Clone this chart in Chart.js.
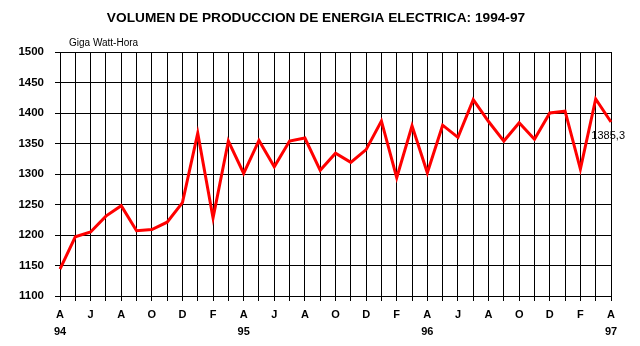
<!DOCTYPE html>
<html>
<head>
<meta charset="utf-8">
<script src="https://cdn.jsdelivr.net/npm/chart.js"></script>
<style>
  html, body { margin: 0; padding: 0; background: #fff; }
  #wrap { width: 640px; height: 346px; }
</style>
</head>
<body>
<div id="wrap"><canvas id="canvas" width="640" height="346"></canvas></div>
<script>
// monthly series, april 1994 to april 1997
const months = ['A','M','J','J','A','S','O','N','D','E','F','M',
                'A','M','J','J','A','S','O','N','D','E','F','M',
                'A','M','J','J','A','S','O','N','D','E','F','M','A'];
const years = {0: '94', 12: '95', 24: '96', 36: '97'};
const energia = [1144, 1197, 1205, 1231, 1248, 1207, 1209, 1221, 1253, 1367, 1228, 1354,
                 1301, 1355, 1312, 1354, 1359, 1306, 1334, 1319, 1340, 1387, 1294, 1379,
                 1302, 1380, 1360, 1422, 1386, 1354, 1384, 1357, 1400, 1403, 1308, 1423, 1385.3];
const yTicks = [1100, 1150, 1200, 1250, 1300, 1350, 1400, 1450, 1500];
const titulo = 'VOLUMEN DE PRODUCCION DE ENERGIA ELECTRICA: 1994-97';

const labelFont = { family: 'Liberation Sans, Arial', size: 11, weight: 'bold' };

// title, unit caption and value of the last month
const extras = {
  id: 'extras',
  afterDatasetsDraw(chart) {
    const ctx = chart.ctx;
    ctx.save();
    ctx.fillStyle = '#000';
    ctx.textBaseline = 'middle';
    ctx.textAlign = 'center';
    ctx.font = 'bold 13.7px "Liberation Sans", Arial';
    ctx.fillText(titulo, 316, 18.5);
    ctx.textAlign = 'left';
    ctx.font = '10px "Liberation Sans", Arial';
    ctx.fillText('Giga Watt-Hora', 69, 43);
    const last = energia.length - 1;
    const px = chart.scales.x.getPixelForValue(last);
    const py = chart.scales.y.getPixelForValue(energia[last]);
    ctx.font = '11px "Liberation Sans", Arial';
    ctx.textAlign = 'right';
    ctx.fillText(String(energia[last]).replace('.', ','), px + 14, py + 14);
    ctx.restore();
  }
};

const ctx = document.getElementById('canvas').getContext('2d');
const myChart = new Chart(ctx, {
  type: 'line',
  data: {
    labels: months,
    datasets: [{
      label: 'Energia',
      data: energia,
      borderColor: '#ff0000',
      borderWidth: 3,
      pointRadius: 0,
      tension: 0,
      fill: false
    }]
  },
  options: {
    responsive: false,
    animation: false,
    layout: { padding: { left: 0, right: 29, top: 52, bottom: 0 } },
    plugins: {
      legend: { display: false },
      tooltip: { enabled: false },
      title: { display: false }
    },
    scales: {
      x: {
        offset: false,
        border: { color: '#000', width: 1 },
        grid: { color: '#000', lineWidth: 1, tickLength: 5, offset: false },
        ticks: {
          autoSkip: false,
          maxRotation: 0,
          color: '#000',
          font: { ...labelFont, lineHeight: 1.5 },
          padding: 6,
          callback: (v, i) => {
            if (i % 2) return '';
            return years[i] ? [months[i], years[i]] : months[i];
          }
        },
        afterFit: s => { s.height = 50; }
      },
      y: {
        min: 1100,
        max: 1500,
        border: { color: '#000', width: 1 },
        grid: { color: '#000', lineWidth: 1, tickLength: 5 },
        afterBuildTicks: s => { s.ticks = yTicks.map(v => ({ value: v })); },
        ticks: {
          color: '#000',
          font: { ...labelFont, size: 11.5 },
          padding: 11,
          callback: v => String(v)
        },
        afterFit: s => { s.width = 60; }
      }
    }
  },
  plugins: [extras]
});
</script>
</body>
</html>
